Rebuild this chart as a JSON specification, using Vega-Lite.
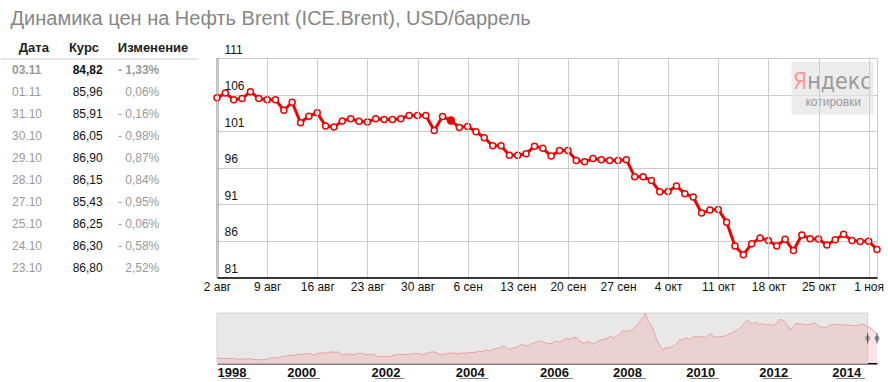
{
  "$schema": "https://vega.github.io/schema/vega-lite/v6.json",
  "padding": {"left": 0, "top": 9, "right": 0, "bottom": 0},
  "background": "white",
  "config": {"font": "Liberation Sans", "view": {"stroke": null}},
  "title": {"text": "Динамика цен на Нефть Brent (ICE.Brent), USD/баррель", "anchor": "start", "fontSize": 20, "fontWeight": "normal", "color": "#868686", "font": "Liberation Sans", "dx": 10, "offset": 7},
  "datasets": {
    "prices": [
      {"date": "2014-08-02", "price": 105.55}, {"date": "2014-08-04", "price": 106.2}, {"date": "2014-08-05", "price": 105.3}, {"date": "2014-08-06", "price": 105.45}, {"date": "2014-08-07", "price": 106.4}, {"date": "2014-08-08", "price": 105.45},
      {"date": "2014-08-09", "price": 105.3}, {"date": "2014-08-11", "price": 105.3}, {"date": "2014-08-12", "price": 103.85}, {"date": "2014-08-13", "price": 104.95}, {"date": "2014-08-14", "price": 102.15}, {"date": "2014-08-15", "price": 103.05},
      {"date": "2014-08-16", "price": 103.5}, {"date": "2014-08-18", "price": 101.7}, {"date": "2014-08-19", "price": 101.55}, {"date": "2014-08-20", "price": 102.4}, {"date": "2014-08-21", "price": 102.7}, {"date": "2014-08-22", "price": 102.35},
      {"date": "2014-08-23", "price": 102.25}, {"date": "2014-08-25", "price": 102.7}, {"date": "2014-08-26", "price": 102.6}, {"date": "2014-08-27", "price": 102.6}, {"date": "2014-08-28", "price": 102.7}, {"date": "2014-08-29", "price": 103.15},
      {"date": "2014-08-30", "price": 103.15}, {"date": "2014-09-01", "price": 103.15}, {"date": "2014-09-02", "price": 101.1}, {"date": "2014-09-03", "price": 103.0}, {"date": "2014-09-04", "price": 102.45}, {"date": "2014-09-05", "price": 101.5},
      {"date": "2014-09-06", "price": 101.65}, {"date": "2014-09-08", "price": 100.9}, {"date": "2014-09-09", "price": 100.1}, {"date": "2014-09-10", "price": 99.0}, {"date": "2014-09-11", "price": 99.0}, {"date": "2014-09-12", "price": 97.7},
      {"date": "2014-09-13", "price": 97.7}, {"date": "2014-09-15", "price": 97.9}, {"date": "2014-09-16", "price": 98.95}, {"date": "2014-09-17", "price": 98.65}, {"date": "2014-09-18", "price": 97.6}, {"date": "2014-09-19", "price": 98.35},
      {"date": "2014-09-20", "price": 98.35}, {"date": "2014-09-22", "price": 97.0}, {"date": "2014-09-23", "price": 96.8}, {"date": "2014-09-24", "price": 97.25}, {"date": "2014-09-25", "price": 97.1}, {"date": "2014-09-26", "price": 97.0},
      {"date": "2014-09-27", "price": 97.0}, {"date": "2014-09-29", "price": 97.1}, {"date": "2014-09-30", "price": 94.75}, {"date": "2014-10-01", "price": 94.75}, {"date": "2014-10-02", "price": 94.25}, {"date": "2014-10-03", "price": 92.7},
      {"date": "2014-10-04", "price": 92.75}, {"date": "2014-10-06", "price": 93.5}, {"date": "2014-10-07", "price": 92.45}, {"date": "2014-10-08", "price": 92.0}, {"date": "2014-10-09", "price": 89.8}, {"date": "2014-10-10", "price": 90.2},
      {"date": "2014-10-11", "price": 90.3}, {"date": "2014-10-13", "price": 88.55}, {"date": "2014-10-14", "price": 85.3}, {"date": "2014-10-15", "price": 84.1}, {"date": "2014-10-16", "price": 85.6}, {"date": "2014-10-17", "price": 86.4},
      {"date": "2014-10-18", "price": 86.05}, {"date": "2014-10-20", "price": 85.3}, {"date": "2014-10-21", "price": 86.2}, {"date": "2014-10-22", "price": 84.67}, {"date": "2014-10-23", "price": 86.8}, {"date": "2014-10-24", "price": 86.3},
      {"date": "2014-10-25", "price": 86.25}, {"date": "2014-10-27", "price": 85.43}, {"date": "2014-10-28", "price": 86.15}, {"date": "2014-10-29", "price": 86.9}, {"date": "2014-10-30", "price": 86.05}, {"date": "2014-10-31", "price": 85.91},
      {"date": "2014-11-01", "price": 85.96}, {"date": "2014-11-03", "price": 84.82}
    ],
    "table": [
      {"d": "03.11", "k": "84,82", "c": "- 1,33%"},
      {"d": "01.11", "k": "85,96", "c": "0,06%"},
      {"d": "31.10", "k": "85,91", "c": "- 0,16%"},
      {"d": "30.10", "k": "86,05", "c": "- 0,98%"},
      {"d": "29.10", "k": "86,90", "c": "0,87%"},
      {"d": "28.10", "k": "86,15", "c": "0,84%"},
      {"d": "27.10", "k": "85,43", "c": "- 0,95%"},
      {"d": "25.10", "k": "86,25", "c": "- 0,06%"},
      {"d": "24.10", "k": "86,30", "c": "- 0,58%"},
      {"d": "23.10", "k": "86,80", "c": "2,52%"}
    ],
    "hist": [
      {"t": 1998.0, "v": 15.5}, {"t": 1998.125, "v": 13.9}, {"t": 1998.208, "v": 13.2}, {"t": 1998.292, "v": 13.4}, {"t": 1998.375, "v": 14.4}, {"t": 1998.458, "v": 12.1}, {"t": 1998.542, "v": 12.0}, {"t": 1998.625, "v": 12.0}, {"t": 1998.708, "v": 13.4}, {"t": 1998.792, "v": 12.6}, {"t": 1998.875, "v": 10.9}, {"t": 1998.958, "v": 9.8},
      {"t": 1999.042, "v": 11.1}, {"t": 1999.125, "v": 10.3}, {"t": 1999.208, "v": 12.5}, {"t": 1999.292, "v": 15.3}, {"t": 1999.375, "v": 15.3}, {"t": 1999.458, "v": 15.9}, {"t": 1999.542, "v": 19.1}, {"t": 1999.625, "v": 20.3}, {"t": 1999.708, "v": 22.5}, {"t": 1999.792, "v": 22.1}, {"t": 1999.875, "v": 24.6}, {"t": 1999.958, "v": 25.5},
      {"t": 2000.042, "v": 25.5}, {"t": 2000.125, "v": 27.8}, {"t": 2000.208, "v": 27.5}, {"t": 2000.292, "v": 22.8}, {"t": 2000.375, "v": 27.3}, {"t": 2000.458, "v": 29.8}, {"t": 2000.542, "v": 28.7}, {"t": 2000.625, "v": 30.4}, {"t": 2000.708, "v": 33.1}, {"t": 2000.792, "v": 30.9}, {"t": 2000.875, "v": 32.6}, {"t": 2000.958, "v": 25.3},
      {"t": 2001.042, "v": 25.6}, {"t": 2001.125, "v": 27.5}, {"t": 2001.208, "v": 24.5}, {"t": 2001.292, "v": 25.7}, {"t": 2001.375, "v": 28.4}, {"t": 2001.458, "v": 27.7}, {"t": 2001.542, "v": 24.5}, {"t": 2001.625, "v": 25.7}, {"t": 2001.708, "v": 25.6}, {"t": 2001.792, "v": 20.5}, {"t": 2001.875, "v": 18.8}, {"t": 2001.958, "v": 18.7},
      {"t": 2002.042, "v": 19.4}, {"t": 2002.125, "v": 20.3}, {"t": 2002.208, "v": 23.7}, {"t": 2002.292, "v": 25.7}, {"t": 2002.375, "v": 25.4}, {"t": 2002.458, "v": 24.1}, {"t": 2002.542, "v": 25.7}, {"t": 2002.625, "v": 26.6}, {"t": 2002.708, "v": 28.4}, {"t": 2002.792, "v": 27.5}, {"t": 2002.875, "v": 24.3}, {"t": 2002.958, "v": 28.0},
      {"t": 2003.042, "v": 31.2}, {"t": 2003.125, "v": 32.8}, {"t": 2003.208, "v": 30.3}, {"t": 2003.292, "v": 25.0}, {"t": 2003.375, "v": 25.8}, {"t": 2003.458, "v": 27.6}, {"t": 2003.542, "v": 28.4}, {"t": 2003.625, "v": 29.8}, {"t": 2003.708, "v": 27.1}, {"t": 2003.792, "v": 29.6}, {"t": 2003.875, "v": 28.8}, {"t": 2003.958, "v": 29.8},
      {"t": 2004.042, "v": 31.2}, {"t": 2004.125, "v": 30.9}, {"t": 2004.208, "v": 33.8}, {"t": 2004.292, "v": 33.4}, {"t": 2004.375, "v": 37.9}, {"t": 2004.458, "v": 35.2}, {"t": 2004.542, "v": 38.4}, {"t": 2004.625, "v": 43.0}, {"t": 2004.708, "v": 43.4}, {"t": 2004.792, "v": 49.8}, {"t": 2004.875, "v": 43.1}, {"t": 2004.958, "v": 39.6},
      {"t": 2005.042, "v": 44.5}, {"t": 2005.125, "v": 45.5}, {"t": 2005.208, "v": 53.1}, {"t": 2005.292, "v": 51.9}, {"t": 2005.375, "v": 49.0}, {"t": 2005.458, "v": 55.6}, {"t": 2005.542, "v": 57.9}, {"t": 2005.625, "v": 63.8}, {"t": 2005.708, "v": 63.0}, {"t": 2005.792, "v": 58.5}, {"t": 2005.875, "v": 55.5}, {"t": 2005.958, "v": 56.8},
      {"t": 2006.042, "v": 63.1}, {"t": 2006.125, "v": 60.0}, {"t": 2006.208, "v": 62.0}, {"t": 2006.292, "v": 70.0}, {"t": 2006.375, "v": 69.8}, {"t": 2006.458, "v": 68.6}, {"t": 2006.542, "v": 73.7}, {"t": 2006.625, "v": 73.2}, {"t": 2006.708, "v": 62.5}, {"t": 2006.792, "v": 58.0}, {"t": 2006.875, "v": 58.8}, {"t": 2006.958, "v": 62.0},
      {"t": 2007.042, "v": 54.5}, {"t": 2007.125, "v": 58.0}, {"t": 2007.208, "v": 62.1}, {"t": 2007.292, "v": 67.4}, {"t": 2007.375, "v": 67.5}, {"t": 2007.458, "v": 71.3}, {"t": 2007.542, "v": 77.2}, {"t": 2007.625, "v": 70.8}, {"t": 2007.708, "v": 77.1}, {"t": 2007.792, "v": 82.3}, {"t": 2007.875, "v": 92.4}, {"t": 2007.958, "v": 91.5},
      {"t": 2008.042, "v": 92.0}, {"t": 2008.125, "v": 94.8}, {"t": 2008.208, "v": 103.3}, {"t": 2008.292, "v": 110.2}, {"t": 2008.375, "v": 123.9}, {"t": 2008.458, "v": 133.1}, {"t": 2008.5, "v": 143.0}, {"t": 2008.56, "v": 125.0}, {"t": 2008.625, "v": 113.9}, {"t": 2008.708, "v": 99.1}, {"t": 2008.792, "v": 72.8}, {"t": 2008.875, "v": 53.2}, {"t": 2008.98, "v": 36.5},
      {"t": 2009.042, "v": 44.9}, {"t": 2009.125, "v": 43.2}, {"t": 2009.208, "v": 46.8}, {"t": 2009.292, "v": 50.8}, {"t": 2009.375, "v": 58.6}, {"t": 2009.458, "v": 69.3}, {"t": 2009.542, "v": 65.8}, {"t": 2009.625, "v": 73.1}, {"t": 2009.708, "v": 67.7}, {"t": 2009.792, "v": 73.2}, {"t": 2009.875, "v": 77.0}, {"t": 2009.958, "v": 74.7},
      {"t": 2010.042, "v": 76.2}, {"t": 2010.125, "v": 73.8}, {"t": 2010.208, "v": 78.8}, {"t": 2010.292, "v": 84.8}, {"t": 2010.375, "v": 75.9}, {"t": 2010.458, "v": 74.8}, {"t": 2010.542, "v": 75.6}, {"t": 2010.625, "v": 77.1}, {"t": 2010.708, "v": 78.2}, {"t": 2010.792, "v": 83.5}, {"t": 2010.875, "v": 86.1}, {"t": 2010.958, "v": 92.0},
      {"t": 2011.042, "v": 96.5}, {"t": 2011.125, "v": 103.7}, {"t": 2011.208, "v": 114.6}, {"t": 2011.292, "v": 123.3}, {"t": 2011.375, "v": 114.5}, {"t": 2011.458, "v": 113.9}, {"t": 2011.542, "v": 116.5}, {"t": 2011.625, "v": 110.1}, {"t": 2011.708, "v": 112.8}, {"t": 2011.792, "v": 109.6}, {"t": 2011.875, "v": 110.8}, {"t": 2011.958, "v": 107.9},
      {"t": 2012.042, "v": 110.7}, {"t": 2012.125, "v": 119.3}, {"t": 2012.208, "v": 125.5}, {"t": 2012.292, "v": 119.8}, {"t": 2012.375, "v": 110.3}, {"t": 2012.458, "v": 95.2}, {"t": 2012.542, "v": 102.6}, {"t": 2012.625, "v": 113.4}, {"t": 2012.708, "v": 113.0}, {"t": 2012.792, "v": 111.5}, {"t": 2012.875, "v": 109.5}, {"t": 2012.958, "v": 109.5},
      {"t": 2013.042, "v": 112.3}, {"t": 2013.125, "v": 116.1}, {"t": 2013.208, "v": 108.5}, {"t": 2013.292, "v": 102.3}, {"t": 2013.375, "v": 102.6}, {"t": 2013.458, "v": 102.9}, {"t": 2013.542, "v": 107.4}, {"t": 2013.625, "v": 110.3}, {"t": 2013.708, "v": 111.2}, {"t": 2013.792, "v": 109.5}, {"t": 2013.875, "v": 108.1}, {"t": 2013.958, "v": 110.7},
      {"t": 2014.042, "v": 108.1}, {"t": 2014.125, "v": 108.9}, {"t": 2014.208, "v": 107.5}, {"t": 2014.292, "v": 107.8}, {"t": 2014.375, "v": 109.5}, {"t": 2014.458, "v": 111.8}, {"t": 2014.542, "v": 106.8}, {"t": 2014.625, "v": 102.5}, {"t": 2014.708, "v": 97.5}, {"t": 2014.792, "v": 86.5}, {"t": 2014.84, "v": 84.8}
    ]
  },
  "bounds": "flush",
  "spacing": 19,
  "hconcat": [
    {
      "width": 197,
      "height": 242,
      "data": {"name": "table"},
      "layer": [
        {
          "data": {"values": [{}]},
          "mark": {"type": "rule", "color": "#cccccc", "strokeWidth": 1},
          "encoding": {"y": {"datum": "03.11", "type": "nominal", "bandPosition": 0, "scale": {"type": "band", "domain": ["h", "03.11", "01.11", "31.10", "30.10", "29.10", "28.10", "27.10", "25.10", "24.10", "23.10"], "paddingInner": 0, "paddingOuter": 0}, "axis": null}}
        },
        {
          "data": {"values": [{}]},
          "mark": {"type": "text", "text": "Дата", "fontWeight": "bold", "fontSize": 13, "color": "#222222", "align": "center", "baseline": "middle"},
          "encoding": {"x": {"datum": "Дата", "type": "nominal", "bandPosition": 0.5, "scale": {"type": "band", "domain": ["Дата", "Курс", "Изменение"], "paddingInner": 0, "paddingOuter": 0}, "axis": null}, "y": {"datum": "h", "type": "nominal"}}
        },
        {
          "data": {"values": [{}]},
          "mark": {"type": "text", "text": "Курс", "fontWeight": "bold", "fontSize": 13, "color": "#222222", "align": "center", "baseline": "middle"},
          "encoding": {"x": {"datum": "Курс", "type": "nominal", "bandPosition": 0.264}, "y": {"datum": "h", "type": "nominal"}}
        },
        {
          "data": {"values": [{}]},
          "mark": {"type": "text", "text": "Изменение", "fontWeight": "bold", "fontSize": 13, "color": "#222222", "align": "center", "baseline": "middle"},
          "encoding": {"x": {"datum": "Изменение", "type": "nominal", "bandPosition": 0.315}, "y": {"datum": "h", "type": "nominal"}}
        },
        {
          "transform": [{"filter": "datum.d != '03.11'"}],
          "mark": {"type": "text", "fontSize": 12, "color": "#999999", "align": "left", "baseline": "middle"},
          "encoding": {"x": {"datum": "Дата", "type": "nominal", "bandPosition": 0.1675}, "y": {"field": "d", "type": "nominal"}, "text": {"field": "d"}}
        },
        {
          "transform": [{"filter": "datum.d == '03.11'"}],
          "mark": {"type": "text", "fontSize": 12, "fontWeight": "bold", "color": "#999999", "align": "left", "baseline": "middle"},
          "encoding": {"x": {"datum": "Дата", "type": "nominal", "bandPosition": 0.1675}, "y": {"field": "d", "type": "nominal"}, "text": {"field": "d"}}
        },
        {
          "transform": [{"filter": "datum.d != '03.11'"}],
          "mark": {"type": "text", "fontSize": 12, "color": "#111111", "align": "right", "baseline": "middle"},
          "encoding": {"x": {"datum": "Курс", "type": "nominal", "bandPosition": 0.549}, "y": {"field": "d", "type": "nominal"}, "text": {"field": "k"}}
        },
        {
          "transform": [{"filter": "datum.d == '03.11'"}],
          "mark": {"type": "text", "fontSize": 12, "fontWeight": "bold", "color": "#111111", "align": "right", "baseline": "middle"},
          "encoding": {"x": {"datum": "Курс", "type": "nominal", "bandPosition": 0.549}, "y": {"field": "d", "type": "nominal"}, "text": {"field": "k"}}
        },
        {
          "transform": [{"filter": "datum.d != '03.11'"}],
          "mark": {"type": "text", "fontSize": 12, "color": "#999999", "align": "right", "baseline": "middle"},
          "encoding": {"x": {"datum": "Изменение", "type": "nominal", "bandPosition": 0.41}, "y": {"field": "d", "type": "nominal"}, "text": {"field": "c"}}
        },
        {
          "transform": [{"filter": "datum.d == '03.11'"}],
          "mark": {"type": "text", "fontSize": 12, "fontWeight": "bold", "color": "#999999", "align": "right", "baseline": "middle"},
          "encoding": {"x": {"datum": "Изменение", "type": "nominal", "bandPosition": 0.41}, "y": {"field": "d", "type": "nominal"}, "text": {"field": "c"}}
        }
      ]
    },
    {
      "bounds": "flush",
      "spacing": 10,
      "vconcat": [
        {
          "width": 660,
          "height": 10.6,
          "data": {"values": [{}]},
          "mark": {"type": "text", "text": ""}
        },
        {
          "width": 660,
          "height": 219.4,
          "view": {"stroke": "#cccccc"},
          "data": {"name": "prices"},
          "encoding": {
            "x": {
              "field": "date", "type": "ordinal",
              "scale": {"type": "point", "padding": 0},
              "axis": {
                "values": ["2014-08-02", "2014-08-09", "2014-08-16", "2014-08-23", "2014-08-30", "2014-09-06", "2014-09-13", "2014-09-20", "2014-09-27", "2014-10-04", "2014-10-11", "2014-10-18", "2014-10-25", "2014-11-01"],
                "labelExpr": "toNumber(slice(datum.value, 8, 10)) + ' ' + ['янв','фев','мар','апр','май','июн','июл','авг','сен','окт','ноя','дек'][toNumber(slice(datum.value, 5, 7)) - 1]",
                "grid": true, "gridColor": "#cccccc", "gridWidth": 1,
                "domainColor": "#000000", "domainWidth": 1.5,
                "ticks": false, "tickSize": 0,
                "labelAngle": 0, "labelFontSize": 12, "labelColor": "#111111", "labelPadding": 4,
                "labelOverlap": false, "labelBound": false, "labelFont": "Liberation Sans",
                "title": null
              }
            }
          },
          "layer": [
            {
              "data": {"values": [{"date": "2014-10-22", "end": "2014-11-01"}]},
              "mark": {"type": "rect", "color": "#e6e6e6", "opacity": 0.75, "xOffset": -2, "x2Offset": 5},
              "encoding": {"x2": {"field": "end"}, "y": {"datum": 110.5, "type": "quantitative", "scale": {"domain": [81, 111], "zero": false, "nice": false}, "axis": {"values": [81, 86, 91, 96, 101, 106, 111], "grid": true, "gridColor": "#cccccc", "gridWidth": 1, "domainColor": "#000000", "domainWidth": 1.5, "ticks": false, "tickSize": 0, "labelAlign": "left", "labelBaseline": "middle", "labelPadding": -7, "labelOffset": -9, "labelFontSize": 12, "labelColor": "#111111", "labelFont": "Liberation Sans", "labelOverlap": false, "labelBound": false, "labelFlush": false, "title": null}}, "y2": {"datum": 103.25}}
            },
            {
              "mark": {"type": "line", "color": "#f20000", "strokeWidth": 3},
              "encoding": {"y": {"field": "price", "type": "quantitative", "scale": {"domain": [81, 111], "zero": false, "nice": false}, "axis": {"values": [81, 86, 91, 96, 101, 106, 111], "grid": true, "gridColor": "#cccccc", "gridWidth": 1, "domainColor": "#000000", "domainWidth": 1.5, "ticks": false, "tickSize": 0, "labelAlign": "left", "labelBaseline": "middle", "labelPadding": -7, "labelOffset": -9, "labelFontSize": 12, "labelColor": "#111111", "labelFont": "Liberation Sans", "labelOverlap": false, "labelBound": false, "labelFlush": false, "title": null}}}
            },
            {
              "mark": {"type": "circle", "fill": "#ffffff", "stroke": "#f20000", "strokeWidth": 1.5, "size": 36, "opacity": 1},
              "encoding": {"y": {"field": "price", "type": "quantitative", "scale": {"domain": [81, 111], "zero": false, "nice": false}, "axis": {"values": [81, 86, 91, 96, 101, 106, 111], "grid": true, "gridColor": "#cccccc", "gridWidth": 1, "domainColor": "#000000", "domainWidth": 1.5, "ticks": false, "tickSize": 0, "labelAlign": "left", "labelBaseline": "middle", "labelPadding": -7, "labelOffset": -9, "labelFontSize": 12, "labelColor": "#111111", "labelFont": "Liberation Sans", "labelOverlap": false, "labelBound": false, "labelFlush": false, "title": null}}}
            },
            {
              "transform": [{"filter": "datum.date == '2014-09-04'"}],
              "mark": {"type": "circle", "color": "#f20000", "size": 70, "opacity": 1},
              "encoding": {"y": {"field": "price", "type": "quantitative", "scale": {"domain": [81, 111], "zero": false, "nice": false}, "axis": {"values": [81, 86, 91, 96, 101, 106, 111], "grid": true, "gridColor": "#cccccc", "gridWidth": 1, "domainColor": "#000000", "domainWidth": 1.5, "ticks": false, "tickSize": 0, "labelAlign": "left", "labelBaseline": "middle", "labelPadding": -7, "labelOffset": -9, "labelFontSize": 12, "labelColor": "#111111", "labelFont": "Liberation Sans", "labelOverlap": false, "labelBound": false, "labelFlush": false, "title": null}}}
            },
            {
              "data": {"values": [{"date": "2014-10-24"}]},
              "mark": {"type": "text", "text": "Я", "font": "DejaVu Sans Condensed, Liberation Sans Narrow, Roboto, Liberation Sans", "fontSize": 23, "color": "#ff9a9a", "align": "right", "baseline": "alphabetic", "dx": -3},
              "encoding": {"y": {"datum": 106.7, "type": "quantitative", "scale": {"domain": [81, 111], "zero": false, "nice": false}, "axis": {"values": [81, 86, 91, 96, 101, 106, 111], "grid": true, "gridColor": "#cccccc", "gridWidth": 1, "domainColor": "#000000", "domainWidth": 1.5, "ticks": false, "tickSize": 0, "labelAlign": "left", "labelBaseline": "middle", "labelPadding": -7, "labelOffset": -9, "labelFontSize": 12, "labelColor": "#111111", "labelFont": "Liberation Sans", "labelOverlap": false, "labelBound": false, "labelFlush": false, "title": null}}}
            },
            {
              "data": {"values": [{"date": "2014-10-24"}]},
              "mark": {"type": "text", "text": "ндекс", "font": "DejaVu Sans Condensed, Liberation Sans Narrow, Roboto, Liberation Sans", "fontSize": 23, "color": "#9a9a9a", "align": "left", "baseline": "alphabetic", "dx": -3},
              "encoding": {"y": {"datum": 106.7, "type": "quantitative", "scale": {"domain": [81, 111], "zero": false, "nice": false}, "axis": {"values": [81, 86, 91, 96, 101, 106, 111], "grid": true, "gridColor": "#cccccc", "gridWidth": 1, "domainColor": "#000000", "domainWidth": 1.5, "ticks": false, "tickSize": 0, "labelAlign": "left", "labelBaseline": "middle", "labelPadding": -7, "labelOffset": -9, "labelFontSize": 12, "labelColor": "#111111", "labelFont": "Liberation Sans", "labelOverlap": false, "labelBound": false, "labelFlush": false, "title": null}}}
            },
            {
              "data": {"values": [{"date": "2014-10-28"}]},
              "mark": {"type": "text", "text": "котировки", "fontSize": 12, "color": "#9a9a9a", "align": "center", "baseline": "alphabetic", "dx": -2},
              "encoding": {"y": {"datum": 104.5, "type": "quantitative", "scale": {"domain": [81, 111], "zero": false, "nice": false}, "axis": {"values": [81, 86, 91, 96, 101, 106, 111], "grid": true, "gridColor": "#cccccc", "gridWidth": 1, "domainColor": "#000000", "domainWidth": 1.5, "ticks": false, "tickSize": 0, "labelAlign": "left", "labelBaseline": "middle", "labelPadding": -7, "labelOffset": -9, "labelFontSize": 12, "labelColor": "#111111", "labelFont": "Liberation Sans", "labelOverlap": false, "labelBound": false, "labelFlush": false, "title": null}}}
            }
          ]
        },
        {
          "width": 660,
          "height": 75.3,
          "data": {"name": "hist"},
          "encoding": {
            "x": {
              "field": "t", "type": "quantitative",
              "scale": {"type": "linear", "zero": false, "nice": false, "padding": 0, "domain": [1998, 2006, 2014.84], "range": [0, 337, 660]},
              "axis": {
                "values": [1998, 2000, 2002, 2004, 2006, 2008, 2010, 2012, 2014],
                "labelExpr": "join(split(format(datum.value, 'd'), ''), '\u0332') + '\u0332'",
                "grid": false, "ticks": false, "tickSize": 0,
                "domainColor": "#000000", "domainWidth": 1.5,
                "labelFontSize": 13, "labelFontWeight": "bold", "labelColor": "#111111", "labelPadding": 3,
                "labelFlush": 10, "labelOverlap": false, "labelFont": "Liberation Sans",
                "title": null
              }
            }
          },
          "layer": [
            {
              "data": {"values": [{"t": 1998, "end": 2014.585}]},
              "mark": {"type": "rect", "color": "#e8e8e8", "stroke": "#d2d2d2", "strokeWidth": 1},
              "encoding": {"x2": {"field": "end"}, "y": {"datum": 0, "type": "quantitative", "scale": {"domain": [0, 214.5], "nice": false, "zero": true}, "axis": null}, "y2": {"datum": 143}}
            },
            {
              "mark": {"type": "area", "color": "#f09a9a", "opacity": 0.28},
              "encoding": {"y": {"field": "v", "type": "quantitative", "scale": {"domain": [0, 214.5], "nice": false, "zero": true}, "axis": null}}
            },
            {
              "mark": {"type": "line", "color": "#e8a2a2", "strokeWidth": 1},
              "encoding": {"y": {"field": "v", "type": "quantitative", "scale": {"domain": [0, 214.5], "nice": false, "zero": true}, "axis": null}}
            },
            {
              "data": {"values": [{"t": 2014.585}, {"t": 2014.84}]},
              "mark": {"type": "tick", "orient": "vertical", "color": "#a0a0a0", "thickness": 5, "cornerRadius": 2, "opacity": 1},
              "encoding": {"y": {"datum": 71.5, "type": "quantitative", "scale": {"domain": [0, 214.5], "nice": false, "zero": true}, "axis": null}}
            },
            {
              "data": {"values": [{"t": 2014.585}, {"t": 2014.84}]},
              "mark": {"type": "tick", "orient": "vertical", "color": "#444444", "thickness": 1, "size": 10, "opacity": 1},
              "encoding": {"y": {"datum": 71.5, "type": "quantitative", "scale": {"domain": [0, 214.5], "nice": false, "zero": true}, "axis": null}}
            }
          ]
        }
      ]
    }
  ]
}
